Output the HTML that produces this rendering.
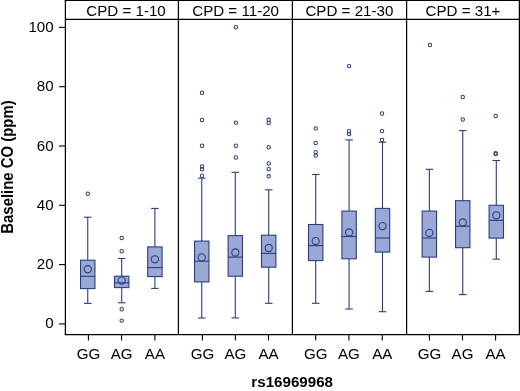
<!DOCTYPE html>
<html><head><meta charset="utf-8"><style>
html,body{margin:0;padding:0;background:#fff;}
body{width:520px;height:391px;overflow:hidden;}
svg{display:block;will-change:transform;}
text{font-family:"Liberation Sans",sans-serif;font-size:15px;fill:#000;}
.b{font-weight:bold;}
</style></head><body>
<svg width="520" height="391" viewBox="0 0 520 391">
<rect width="520" height="391" fill="#fff"/>
<g stroke="#2a3e7f" stroke-width="1.1" fill="none">
<line x1="87.75" y1="217.2" x2="87.75" y2="260.2"/>
<line x1="87.75" y1="288.6" x2="87.75" y2="303.4"/>
<line x1="83.95" y1="217.2" x2="91.55" y2="217.2"/>
<line x1="83.95" y1="303.4" x2="91.55" y2="303.4"/>
<rect x="80.55" y="260.2" width="14.4" height="28.40" fill="#99a8d5"/>
<line x1="80.55" y1="276.3" x2="94.95" y2="276.3"/>
<circle cx="87.75" cy="269.2" r="3.6"/>
<circle cx="87.75" cy="193.7" r="1.7" stroke="#2d3f7e" stroke-width="1.05"/>
<line x1="121.7" y1="258.5" x2="121.7" y2="276.2"/>
<line x1="121.7" y1="287.6" x2="121.7" y2="302.8"/>
<line x1="117.90" y1="258.5" x2="125.50" y2="258.5"/>
<line x1="117.90" y1="302.8" x2="125.50" y2="302.8"/>
<rect x="114.50" y="276.2" width="14.4" height="11.40" fill="#99a8d5"/>
<line x1="114.50" y1="282.8" x2="128.90" y2="282.8"/>
<circle cx="121.7" cy="280.6" r="3.6"/>
<circle cx="121.70" cy="238" r="1.7" stroke="#2d3f7e" stroke-width="1.05"/>
<circle cx="121.70" cy="251.2" r="1.7" stroke="#2d3f7e" stroke-width="1.05"/>
<circle cx="121.70" cy="309.3" r="1.7" stroke="#2d3f7e" stroke-width="1.05"/>
<circle cx="121.70" cy="320.6" r="1.7" stroke="#2d3f7e" stroke-width="1.05"/>
<line x1="154.9" y1="208.4" x2="154.9" y2="246.9"/>
<line x1="154.9" y1="276.6" x2="154.9" y2="288.4"/>
<line x1="151.10" y1="208.4" x2="158.70" y2="208.4"/>
<line x1="151.10" y1="288.4" x2="158.70" y2="288.4"/>
<rect x="147.70" y="246.9" width="14.4" height="29.70" fill="#99a8d5"/>
<line x1="147.70" y1="267.6" x2="162.10" y2="267.6"/>
<circle cx="154.9" cy="259.3" r="3.6"/>
<line x1="201.75" y1="178.2" x2="201.75" y2="241.1"/>
<line x1="201.75" y1="281.9" x2="201.75" y2="318.0"/>
<line x1="197.95" y1="178.2" x2="205.55" y2="178.2"/>
<line x1="197.95" y1="318.0" x2="205.55" y2="318.0"/>
<rect x="194.55" y="241.1" width="14.4" height="40.80" fill="#99a8d5"/>
<line x1="194.55" y1="261.2" x2="208.95" y2="261.2"/>
<circle cx="201.75" cy="257.4" r="3.6"/>
<circle cx="202.05" cy="92.7" r="1.7" stroke="#2d3f7e" stroke-width="1.05"/>
<circle cx="202.05" cy="119.9" r="1.7" stroke="#2d3f7e" stroke-width="1.05"/>
<circle cx="202.05" cy="145.7" r="1.7" stroke="#2d3f7e" stroke-width="1.05"/>
<circle cx="202.05" cy="166.4" r="1.7" stroke="#2d3f7e" stroke-width="1.05"/>
<circle cx="202.05" cy="169.3" r="1.7" stroke="#2d3f7e" stroke-width="1.05"/>
<circle cx="202.05" cy="175.7" r="1.7" stroke="#2d3f7e" stroke-width="1.05"/>
<line x1="235.3" y1="172.3" x2="235.3" y2="235.6"/>
<line x1="235.3" y1="276.2" x2="235.3" y2="317.9"/>
<line x1="231.50" y1="172.3" x2="239.10" y2="172.3"/>
<line x1="231.50" y1="317.9" x2="239.10" y2="317.9"/>
<rect x="228.10" y="235.6" width="14.4" height="40.60" fill="#99a8d5"/>
<line x1="228.10" y1="257.1" x2="242.50" y2="257.1"/>
<circle cx="235.3" cy="252.5" r="3.6"/>
<circle cx="235.80" cy="27.2" r="1.7" stroke="#2d3f7e" stroke-width="1.05"/>
<circle cx="235.80" cy="122.6" r="1.7" stroke="#2d3f7e" stroke-width="1.05"/>
<circle cx="235.80" cy="145.7" r="1.7" stroke="#2d3f7e" stroke-width="1.05"/>
<circle cx="235.80" cy="157.5" r="1.7" stroke="#2d3f7e" stroke-width="1.05"/>
<line x1="268.7" y1="189.8" x2="268.7" y2="235.2"/>
<line x1="268.7" y1="267.2" x2="268.7" y2="303.3"/>
<line x1="264.90" y1="189.8" x2="272.50" y2="189.8"/>
<line x1="264.90" y1="303.3" x2="272.50" y2="303.3"/>
<rect x="261.50" y="235.2" width="14.4" height="32.00" fill="#99a8d5"/>
<line x1="261.50" y1="253.4" x2="275.90" y2="253.4"/>
<circle cx="268.7" cy="248.0" r="3.6"/>
<circle cx="268.70" cy="119.8" r="1.7" stroke="#2d3f7e" stroke-width="1.05"/>
<circle cx="268.70" cy="123.0" r="1.7" stroke="#2d3f7e" stroke-width="1.05"/>
<circle cx="268.70" cy="147.2" r="1.7" stroke="#2d3f7e" stroke-width="1.05"/>
<circle cx="268.70" cy="163.5" r="1.7" stroke="#2d3f7e" stroke-width="1.05"/>
<circle cx="268.70" cy="169.1" r="1.7" stroke="#2d3f7e" stroke-width="1.05"/>
<circle cx="268.70" cy="176.3" r="1.7" stroke="#2d3f7e" stroke-width="1.05"/>
<line x1="315.7" y1="174.5" x2="315.7" y2="224.5"/>
<line x1="315.7" y1="260.6" x2="315.7" y2="303.3"/>
<line x1="311.90" y1="174.5" x2="319.50" y2="174.5"/>
<line x1="311.90" y1="303.3" x2="319.50" y2="303.3"/>
<rect x="308.50" y="224.5" width="14.4" height="36.10" fill="#99a8d5"/>
<line x1="308.50" y1="245.6" x2="322.90" y2="245.6"/>
<circle cx="315.7" cy="241.1" r="3.6"/>
<circle cx="315.70" cy="128.4" r="1.7" stroke="#2d3f7e" stroke-width="1.05"/>
<circle cx="315.70" cy="142.9" r="1.7" stroke="#2d3f7e" stroke-width="1.05"/>
<circle cx="315.70" cy="152.2" r="1.7" stroke="#2d3f7e" stroke-width="1.05"/>
<circle cx="315.70" cy="155.6" r="1.7" stroke="#2d3f7e" stroke-width="1.05"/>
<line x1="349.1" y1="139.9" x2="349.1" y2="211.1"/>
<line x1="349.1" y1="258.8" x2="349.1" y2="309.0"/>
<line x1="345.30" y1="139.9" x2="352.90" y2="139.9"/>
<line x1="345.30" y1="309.0" x2="352.90" y2="309.0"/>
<rect x="341.90" y="211.1" width="14.4" height="47.70" fill="#99a8d5"/>
<line x1="341.90" y1="236.5" x2="356.30" y2="236.5"/>
<circle cx="349.1" cy="232.5" r="3.6"/>
<circle cx="349.10" cy="66.1" r="1.7" stroke="#2d3f7e" stroke-width="1.05"/>
<circle cx="349.10" cy="131.2" r="1.7" stroke="#2d3f7e" stroke-width="1.05"/>
<circle cx="349.10" cy="134.1" r="1.7" stroke="#2d3f7e" stroke-width="1.05"/>
<line x1="382.5" y1="142.2" x2="382.5" y2="208.4"/>
<line x1="382.5" y1="252.1" x2="382.5" y2="311.7"/>
<line x1="378.70" y1="142.2" x2="386.30" y2="142.2"/>
<line x1="378.70" y1="311.7" x2="386.30" y2="311.7"/>
<rect x="375.30" y="208.4" width="14.4" height="43.70" fill="#99a8d5"/>
<line x1="375.30" y1="238.0" x2="389.70" y2="238.0"/>
<circle cx="382.5" cy="226.1" r="3.6"/>
<circle cx="382.05" cy="113.5" r="1.7" stroke="#2d3f7e" stroke-width="1.05"/>
<circle cx="382.05" cy="131.1" r="1.7" stroke="#2d3f7e" stroke-width="1.05"/>
<circle cx="382.05" cy="139.9" r="1.7" stroke="#2d3f7e" stroke-width="1.05"/>
<line x1="429.35" y1="169.3" x2="429.35" y2="211.1"/>
<line x1="429.35" y1="257.1" x2="429.35" y2="291.4"/>
<line x1="425.55" y1="169.3" x2="433.15" y2="169.3"/>
<line x1="425.55" y1="291.4" x2="433.15" y2="291.4"/>
<rect x="422.15" y="211.1" width="14.4" height="46.00" fill="#99a8d5"/>
<line x1="422.15" y1="238.0" x2="436.55" y2="238.0"/>
<circle cx="429.35" cy="232.9" r="3.6"/>
<circle cx="429.95" cy="45.0" r="1.7" stroke="#2d3f7e" stroke-width="1.05"/>
<line x1="462.75" y1="130.6" x2="462.75" y2="200.7"/>
<line x1="462.75" y1="247.7" x2="462.75" y2="294.6"/>
<line x1="458.95" y1="130.6" x2="466.55" y2="130.6"/>
<line x1="458.95" y1="294.6" x2="466.55" y2="294.6"/>
<rect x="455.55" y="200.7" width="14.4" height="47.00" fill="#99a8d5"/>
<line x1="455.55" y1="226.3" x2="469.95" y2="226.3"/>
<circle cx="462.75" cy="222.5" r="3.6"/>
<circle cx="462.75" cy="97.0" r="1.7" stroke="#2d3f7e" stroke-width="1.05"/>
<circle cx="462.75" cy="119.5" r="1.7" stroke="#2d3f7e" stroke-width="1.05"/>
<line x1="496.3" y1="160.5" x2="496.3" y2="205.3"/>
<line x1="496.3" y1="238.1" x2="496.3" y2="259.1"/>
<line x1="492.50" y1="160.5" x2="500.10" y2="160.5"/>
<line x1="492.50" y1="259.1" x2="500.10" y2="259.1"/>
<rect x="489.10" y="205.3" width="14.4" height="32.80" fill="#99a8d5"/>
<line x1="489.10" y1="220.4" x2="503.50" y2="220.4"/>
<circle cx="496.3" cy="215.3" r="3.6"/>
<circle cx="495.70" cy="116.0" r="1.7" stroke="#2d3f7e" stroke-width="1.05"/>
<circle cx="495.70" cy="153.2" r="1.7" stroke="#2d3f7e" stroke-width="1.05"/>
<circle cx="495.70" cy="154.0" r="1.7" stroke="#2d3f7e" stroke-width="1.05"/>
</g>
<g stroke="#000" stroke-width="1.1" fill="none">
<g stroke-width="1.25">
<line x1="64.8" y1="0.45" x2="520" y2="0.45"/>
<line x1="64.8" y1="334.5" x2="520" y2="334.5"/>
<line x1="65.4" y1="0" x2="65.4" y2="335.1"/>
<line x1="519.4" y1="0" x2="519.4" y2="335.1"/>
<line x1="65.4" y1="19.4" x2="519.4" y2="19.4"/>
<line x1="178.4" y1="0" x2="178.4" y2="334.5"/>
<line x1="292.4" y1="0" x2="292.4" y2="334.5"/>
<line x1="406.6" y1="0" x2="406.6" y2="334.5"/>
</g>
<line x1="59" y1="323.90" x2="65.5" y2="323.90"/>
<line x1="59" y1="264.60" x2="65.5" y2="264.60"/>
<line x1="59" y1="205.30" x2="65.5" y2="205.30"/>
<line x1="59" y1="146.00" x2="65.5" y2="146.00"/>
<line x1="59" y1="86.70" x2="65.5" y2="86.70"/>
<line x1="59" y1="27.40" x2="65.5" y2="27.40"/>
<line x1="88.4" y1="334.5" x2="88.4" y2="340.5"/>
<line x1="121.6" y1="334.5" x2="121.6" y2="340.5"/>
<line x1="154.9" y1="334.5" x2="154.9" y2="340.5"/>
<line x1="202.4" y1="334.5" x2="202.4" y2="340.5"/>
<line x1="235.4" y1="334.5" x2="235.4" y2="340.5"/>
<line x1="268.5" y1="334.5" x2="268.5" y2="340.5"/>
<line x1="315.7" y1="334.5" x2="315.7" y2="340.5"/>
<line x1="348.9" y1="334.5" x2="348.9" y2="340.5"/>
<line x1="382.3" y1="334.5" x2="382.3" y2="340.5"/>
<line x1="429.4" y1="334.5" x2="429.4" y2="340.5"/>
<line x1="462.5" y1="334.5" x2="462.5" y2="340.5"/>
<line x1="495.6" y1="334.5" x2="495.6" y2="340.5"/>
</g>
<g>
<text transform="translate(53.70,328.40) scale(1.01,1.025)" text-anchor="end">0</text>
<text transform="translate(53.70,269.10) scale(1.01,1.025)" text-anchor="end">20</text>
<text transform="translate(53.70,209.80) scale(1.01,1.025)" text-anchor="end">40</text>
<text transform="translate(53.70,150.50) scale(1.01,1.025)" text-anchor="end">60</text>
<text transform="translate(53.70,91.20) scale(1.01,1.025)" text-anchor="end">80</text>
<text transform="translate(53.70,31.90) scale(1.01,1.025)" text-anchor="end">100</text>
<text transform="translate(88.40,358.60) scale(1.01,1.025)" text-anchor="middle">GG</text>
<text transform="translate(121.60,358.60) scale(1.01,1.025)" text-anchor="middle">AG</text>
<text transform="translate(154.90,358.60) scale(1.01,1.025)" text-anchor="middle">AA</text>
<text transform="translate(202.40,358.60) scale(1.01,1.025)" text-anchor="middle">GG</text>
<text transform="translate(235.40,358.60) scale(1.01,1.025)" text-anchor="middle">AG</text>
<text transform="translate(268.50,358.60) scale(1.01,1.025)" text-anchor="middle">AA</text>
<text transform="translate(315.70,358.60) scale(1.01,1.025)" text-anchor="middle">GG</text>
<text transform="translate(348.90,358.60) scale(1.01,1.025)" text-anchor="middle">AG</text>
<text transform="translate(382.30,358.60) scale(1.01,1.025)" text-anchor="middle">AA</text>
<text transform="translate(429.40,358.60) scale(1.01,1.025)" text-anchor="middle">GG</text>
<text transform="translate(462.50,358.60) scale(1.01,1.025)" text-anchor="middle">AG</text>
<text transform="translate(495.60,358.60) scale(1.01,1.025)" text-anchor="middle">AA</text>
<text transform="translate(126.00,15.50) scale(1.01,1.025)" text-anchor="middle">CPD = 1-10</text>
<text transform="translate(235.60,15.50) scale(1.01,1.025)" text-anchor="middle">CPD = 11-20</text>
<text transform="translate(349.40,15.50) scale(1.01,1.025)" text-anchor="middle">CPD = 21-30</text>
<text transform="translate(463.00,15.50) scale(1.01,1.025)" text-anchor="middle">CPD = 31+</text>
<text class="b" transform="translate(292.20,386.50) scale(1.01,1.025)" text-anchor="middle">rs16969968</text>
<text class="b" transform="translate(12.80,167.00) rotate(-90) scale(0.995,1.06)" text-anchor="middle">Baseline CO (ppm)</text>
</g>
</svg>
</body></html>
